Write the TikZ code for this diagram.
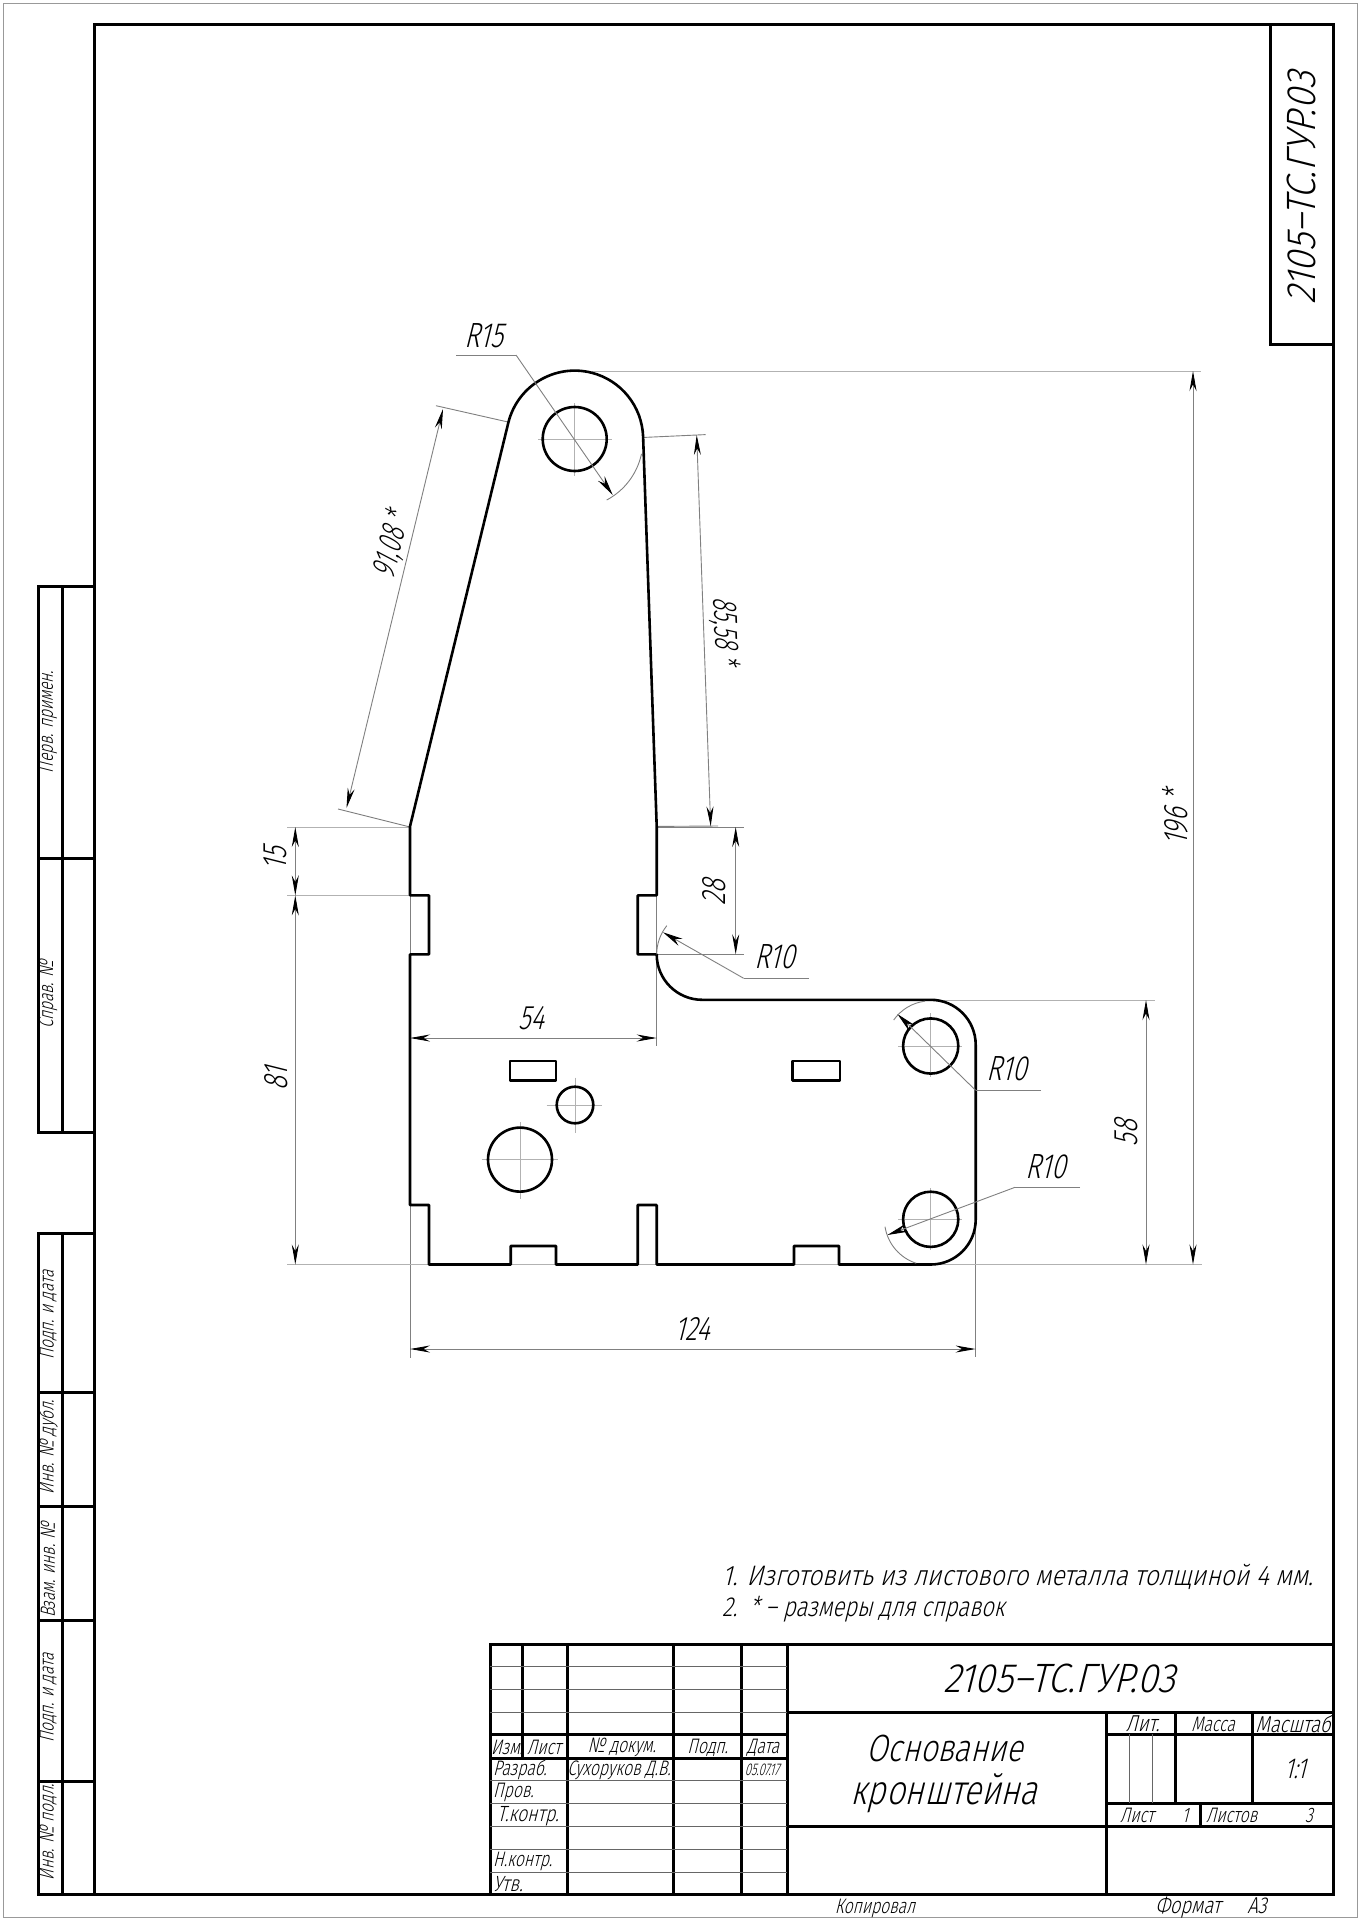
\documentclass[tikz,border=0pt]{standalone}
\usepackage{fontspec}
\usetikzlibrary{arrows.meta}
\setmainfont{Liberation Sans}
\newfontfamily\gost[FakeSlant=0.25,FakeStretch=0.8]{Fira Sans Light}
\newfontfamily\gostw[FakeSlant=0.25,FakeStretch=0.87]{Fira Sans Light}
\newfontfamily\gostt[FakeSlant=0.25,FakeStretch=0.9]{Fira Sans Light}
\newfontfamily\gostd[FakeSlant=0.25,FakeStretch=0.75]{Fira Sans Light}
\newfontfamily\gostn[FakeSlant=0.25,FakeStretch=0.66]{Fira Sans Light}
\newcommand{\fsz}[1]{\fontsize{#1}{#1}\selectfont}
\tikzset{
  cont/.style={line width=2.6pt,black,line join=round},
  frameline/.style={line width=3pt,black,line join=miter},
  cell/.style={line width=1pt,black!60},
  dimth/.style={line width=.9pt,black!50},
  dimar/.style={line width=.9pt,black!50,{Stealth[length=20pt,width=7pt,black]}-{Stealth[length=20pt,width=7pt,black]}},
  leadar/.style={line width=.9pt,black!50,-{Stealth[length=20pt,width=8pt,black]}},
  axisl/.style={line width=1pt,black!30},
  dtext/.style={inner sep=0pt,font=\gostd\fsz{34}},
  rtext/.style={inner sep=0pt,font=\gostd\fsz{35}},
  ltext/.style={inner sep=0pt,font=\gostn\fsz{34}},
  note/.style={inner sep=0pt,anchor=west,font=\gostw\fsz{28.2}},
  small/.style={inner sep=0pt,font=\gostd\fsz{21}},
  smallw/.style={inner sep=0pt,font=\gost\fsz{23}},
  smalll/.style={inner sep=0pt,anchor=west,font=\gostd\fsz{21}},
  smallx/.style={inner sep=0pt,anchor=west,font=\gost\fsz{22}},
  side/.style={inner sep=0pt,rotate=90,font=\gostd\fsz{20.5}}
}
\begin{document}
\begin{tikzpicture}[x=1pt,y=-1pt]
\useasboundingbox (0,0) rectangle (1359,1920);
\fill[white] (0,0) rectangle (1359,1920);
\draw[line width=1pt,black!40] (3,3) rectangle (1357,1917);
% main frame
\draw[frameline] (94,24) rectangle (1333,1894);
\draw[frameline] (1270,24) -- (1270,344) -- (1333,344);
% left strip
\draw[frameline] (94,586) -- (38,586) -- (38,1132) -- (94,1132);
\draw[frameline] (62,586) -- (62,1132);
\draw[frameline] (38,858) -- (94,858);
\draw[frameline] (94,1233) -- (38,1233) -- (38,1894) -- (94,1894);
\draw[frameline] (62,1233) -- (62,1894);
\foreach \yy in {1392,1506,1620,1781} \draw[frameline] (38,\yy) -- (94,\yy);
% title block
\draw[frameline] (490,1894) -- (490,1644) -- (1333,1644);
\foreach \xx in {567,673,741,787} \draw[frameline] (\xx,1644) -- (\xx,1894);
\draw[frameline] (522,1644) -- (522,1758);
\draw[frameline] (490,1734) -- (787,1734);
\draw[frameline] (490,1758) -- (787,1758);
\foreach \yy in {1666,1689,1712,1780,1803,1826,1849,1872} \draw[cell] (490,\yy) -- (787,\yy);
\draw[frameline] (787,1712) -- (1333,1712);
\draw[frameline] (787,1826) -- (1333,1826);
\draw[frameline] (1106,1712) -- (1106,1894);
\draw[frameline] (1106,1734) -- (1333,1734);
\draw[frameline] (1106,1803) -- (1333,1803);
\draw[frameline] (1175,1712) -- (1175,1803);
\draw[frameline] (1252,1712) -- (1252,1803);
\draw[frameline] (1200,1803) -- (1200,1826);
\draw[cell] (1129,1734) -- (1129,1803);
\draw[cell] (1152,1734) -- (1152,1803);
% thin part lines
\draw[dimth] (410,895.4) -- (410,954.3);
\draw[dimth] (410,1205) -- (410,1357.5);
\draw[dimth] (656.7,954.3) -- (656.7,1046);
\draw[dimth] (656.7,895.4) -- (656.7,954.3);
\draw[dimth] (975.6,1219) -- (975.6,1357);
\draw[axisl] (287,1264.5) -- (1202,1264.5);
\draw[axisl] (592,371) -- (1201,371);
\draw[axisl] (943.7,1000) -- (1155,1000);
\draw[axisl] (287,827) -- (410,827);
\draw[axisl] (287,895.4) -- (410,895.4);
\draw[dimth] (657,827) -- (743.5,827);
\draw[dimth] (657,954.3) -- (743.5,954.3);
\draw[dimth] (642,437.5) -- (705.7,434.6);
\draw[dimth] (657,826.4) -- (718,826);
\draw[dimth] (508,422) -- (436,405.7);
\draw[dimth] (410,827) -- (338,809);
% axes
\draw[axisl] (538,439) -- (612,439); \draw[axisl] (574.7,403) -- (574.7,476);
\draw[axisl] (546.7,1105) -- (601.7,1105); \draw[axisl] (575,1077.5) -- (575,1133);
\draw[axisl] (481.7,1159.6) -- (558,1159.6); \draw[axisl] (520,1122) -- (520,1199);
\draw[axisl] (898,1046) -- (962,1046); \draw[axisl] (930.7,1013) -- (930.7,1077);
\draw[axisl] (898,1219.3) -- (962,1219.3); \draw[axisl] (930.7,1188) -- (930.7,1250);
% part outline
\draw[cont] (410,826.4) -- (508.5,422) arc[start angle=165.6,end angle=2,radius=68.4pt]
  -- (656.7,826.4) -- (656.7,895.4) -- (637.7,895.4) -- (637.7,954.3) -- (656.7,954.3)
  arc[start angle=180,end angle=270,radius=45.5pt] -- (930.7,999.8)
  arc[start angle=90,end angle=0,radius=45pt] -- (975.7,1219.5)
  arc[start angle=0,end angle=-90,radius=45pt] -- (839,1264.5) -- (839,1246) -- (794,1246) -- (794,1264.5)
  -- (656.7,1264.5) -- (656.7,1205) -- (637.7,1205) -- (637.7,1264.5) -- (556,1264.5) -- (556,1246)
  -- (510.7,1246) -- (510.7,1264.5) -- (429,1264.5) -- (429,1205) -- (410,1205) -- (410,954.3)
  -- (429,954.3) -- (429,895.4) -- (410,895.4) -- cycle;
\draw[cont] (510,1061) rectangle (556,1080.4);
\draw[cont] (792.6,1061) rectangle (840,1080.4);
\draw[cont] (574.7,439) circle[radius=32pt];
\draw[cont] (575,1105) circle[radius=18.3pt];
\draw[cont] (520,1159.6) circle[radius=32pt];
\draw[cont] (930.7,1046) circle[radius=27.6pt];
\draw[cont] (930.7,1219.3) circle[radius=27.6pt];
% dimensions
\draw[dimar] (1193,371) -- (1193,1264.5);
\draw[dimar] (1146,1000) -- (1146,1264.5);
\draw[dimar] (410,1349) -- (975.6,1349);
\draw[dimar] (410,1038) -- (656.7,1038);
\draw[dimar] (295.3,895.4) -- (295.3,1264.5);
\draw[dimar] (295.3,827) -- (295.3,895.4);
\draw[dimar] (735.7,827) -- (735.7,954.3);
\draw[dimar] (696.7,435) -- (710.7,826.4);
\draw[dimar] (443,409) -- (346.5,808);
% leaders
\draw[dimth] (456,355) -- (516,355);
\draw[leadar] (516,355) -- (612.7,495);
\draw[dimth] (606.7,500) arc[start angle=-62,end angle=-12,radius=68.4pt];
\draw[dimth] (809,978.3) -- (743.7,978.3);
\draw[leadar] (743.7,978.3) -- (663,932.3);
\draw[dimth] (656.7,954.3) arc[start angle=180,end angle=141,radius=45.5pt];
\draw[dimth] (1041,1090.3) -- (975.6,1090.3);
\draw[leadar] (975.6,1090.3) -- (897.4,1014);
\draw[dimth] (893.7,1020) arc[start angle=145,end angle=97,radius=45pt];
\draw[dimth] (1080,1187.3) -- (1015,1187.3);
\draw[leadar] (1015,1187.3) -- (887.4,1235);
\draw[dimth] (885,1226.7) arc[start angle=189,end angle=252,radius=46pt];
% dimension texts
\node[dtext,rotate=90] (d196) at (1175,818) {196 *};
\node[dtext,rotate=90] (d58) at (1126,1133) {58};
\node[dtext] (d124) at (692,1329) {124};
\node[dtext] (d54) at (531,1018) {54};
\node[dtext,rotate=90] (d81) at (276,1079) {81};
\node[dtext,rotate=90] (d15) at (275,859) {15};
\node[dtext,rotate=90] (d28) at (714,892.5) {28};
\node[ltext,rotate=-88] (d8558) at (725,631) {85,58 *};
\node[ltext,rotate=76.4] (d9108) at (392,545) {91,08 *};
\node[rtext] (r15) at (484,335.5) {R15};
\node[rtext] (r10a) at (775,957) {R10};
\node[rtext] (r10b) at (1006.7,1069) {R10};
\node[rtext] (r10c) at (1046,1167) {R10};
% notes
\node[note] (n1) at (722,1577) {1. Изготовить из листового металла толщиной 4 мм.};
\node[inner sep=0pt,anchor=west,font=\gost\fsz{27.5}] (n2) at (722,1609) {2.\ \ * – размеры для справок};
% title block text
\node[inner sep=0pt,font=\gostt\fsz{41}] (tcode) at (1059,1678) {2105–ТС.ГУР.03};
\node[inner sep=0pt,rotate=90,font=\gostt\fsz{41}] (scode) at (1301.7,188) {2105–ТС.ГУР.03};
\node[inner sep=0pt,font=\gost\fsz{38}] (tn1) at (944.6,1748) {Основание};
\node[inner sep=0pt,font=\gost\fsz{41}] (tn2) at (944,1793) {кронштейна};
\node[small] (h1) at (507,1747.7) {Изм.};
\node[small] (h2) at (544,1747.7) {Лист};
\node[small] (h3) at (621.7,1747.7) {№ докум.};
\node[small] (h4) at (707.7,1747.7) {Подп.};
\node[small] (h5) at (763,1747.7) {Дата};
\node[smalll] (r1) at (493,1770) {Разраб.};
\node[small] (r1b) at (619,1770) {Сухоруков Д.В.};
\node[inner sep=0pt,font=\gostn\fsz{17}] (r1c) at (762,1770) {05.07.17};
\node[smalll] (r2) at (493,1792.7) {Пров.};
\node[smallx] (r3) at (497,1816) {Т.контр.};
\node[smalll] (r4) at (493,1861) {Н.контр.};
\node[smallx] (r5) at (493,1884) {Утв.};
\node[smallw] (a1) at (1142.6,1724) {Лит.};
\node[small] (a2) at (1213,1724) {Масса};
\node[smallw] (a3) at (1293,1724) {Масштаб};
\node[inner sep=0pt,font=\gostd\fsz{29}] (a4) at (1295,1769) {1:1};
\node[smalll] (a5) at (1120,1815) {Лист};
\node[small] (a6) at (1185,1815) {1};
\node[smalll] (a7) at (1206,1815) {Листов};
\node[small] (a8) at (1309,1815) {3};
\node[small,anchor=base] (b1) at (875,1913) {Копировал};
\node[smallw,anchor=base] (b2) at (1188,1913) {Формат};
\node[smallw,anchor=base] (b3) at (1257,1913) {А3};
% left strip text
\node[side] (s1) at (48,722) {Перв. примен.};
\node[side] (s2) at (48,994.6) {Справ. №};
\node[side] (s3) at (48,1315) {Подп. и дата};
\node[side] (s4) at (48,1447) {Инв. № дубл.};
\node[side] (s5) at (48,1570) {Взам. инв. №};
\node[side] (s6) at (48,1698) {Подп. и дата};
\node[side] (s7) at (48,1832) {Инв. № подл.};
\end{tikzpicture}
\end{document}
